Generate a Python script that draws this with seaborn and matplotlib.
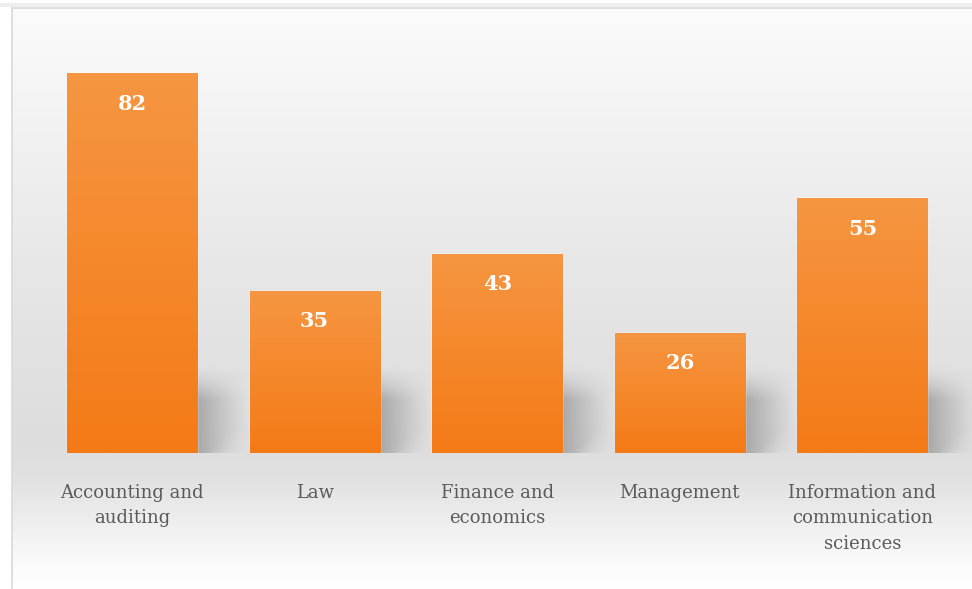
import numpy as np
import pandas as pd
import matplotlib
matplotlib.use("Agg")
import matplotlib.pyplot as plt
import seaborn as sns

categories = ["Accounting and\nauditing", "Law", "Finance and\neconomics",
              "Management", "Information and\ncommunication\nsciences"]
values = [82, 35, 43, 26, 55]

df = pd.DataFrame({"field": categories, "count": values})

sns.set_theme(style="white")
plt.rcParams["font.family"] = ["DejaVu Serif", "DejaVu Sans"]

W, H = 972, 589
fig = plt.figure(figsize=(W / 100, H / 100), dpi=100)
fig.patch.set_facecolor("white")

# backdrop: soft vertical gray gradient inside a thin frame
bg = fig.add_axes([0, 0, 1, 1], zorder=0)
bg.set_xlim(0, W)
bg.set_ylim(H, 0)
bg.axis("off")
stops_y = [0, 60, 150, 250, 350, 440, 480, 520, 560, 589]
stops_g = [251, 247, 240, 232, 226, 221, 226, 238, 250, 255]
yy = np.arange(H)
g = np.interp(yy, stops_y, stops_g) / 255.0
grad = np.repeat(g[:, None], 4, axis=1)
bg.imshow(np.dstack([grad, grad, grad]), extent=[12, W, H, 8], aspect="auto",
          interpolation="bilinear")
bg.plot([12, 12], [8, H], color="#d9d9d9", lw=1.2)
bg.plot([12, W], [8, 8], color="#d9d9d9", lw=1.2)
bg.plot([0, W], [5, 5], color="#eeeeee", lw=3)

ax = fig.add_axes([40.7 / W, 136 / H, 913 / W, 417 / H], zorder=1)
ax.patch.set_alpha(0)

sns.barplot(data=df, x="field", y="count", color="#f58b2f", width=0.712,
            saturation=1, ax=ax, zorder=3)
ax.set_xlim(-0.5, len(categories) - 0.5)
ax.set_ylim(0, 90)

# orange top-to-bottom gradient over each bar, plus a soft cast shadow
top_c = np.array([246, 150, 66]) / 255.0
bot_c = np.array([244, 122, 22]) / 255.0
n = 200
t = np.linspace(0, 1, n)[:, None]
bar_img = (top_c * (1 - t) + bot_c * t)[:, None, :]

sh_w, sh_h = 0.27, 19.0
u = np.linspace(0, 1, 80)[None, :]
v = np.linspace(1, 0, 120)[:, None]
for p in ax.patches:
    x0, w, h = p.get_x(), p.get_width(), p.get_height()
    im = ax.imshow(bar_img, extent=[x0, x0 + w, 0, h], aspect="auto",
                   zorder=4, interpolation="bilinear")
    im.set_clip_path(p)
    hh = min(sh_h, h)
    fade_x = np.clip(1 - u, 0, 1) ** 1.1
    fade_top = np.clip((1 - v) / 0.4, 0, 1) ** 1.5
    diag = np.clip((v + 0.55 - 0.5 * u) / 0.45, 0, 1)
    alpha = 0.5 * fade_x * fade_top * diag
    shadow = np.zeros((120, 80, 4))
    shadow[..., :3] = 0.45
    shadow[..., 3] = alpha
    ax.imshow(shadow, extent=[x0 + w, x0 + w + sh_w, 0, hh], aspect="auto",
              zorder=2, interpolation="bilinear", clip_on=False)
    ax.annotate(f"{int(round(h))}", (x0 + w / 2, h), xytext=(0, -22),
                textcoords="offset points", ha="center", va="center",
                color="white", fontsize=15, fontweight="bold", zorder=6)

ax.set_xlabel("")
ax.set_ylabel("")
ax.set_yticks([])
ax.tick_params(axis="x", length=0, pad=22, labelsize=13, labelcolor="#5a5a5a")
for lbl in ax.get_xticklabels():
    lbl.set_linespacing(1.55)
    lbl.set_verticalalignment("top")
sns.despine(ax=ax, left=True, bottom=True)

fig.savefig("out.png", dpi=100)
